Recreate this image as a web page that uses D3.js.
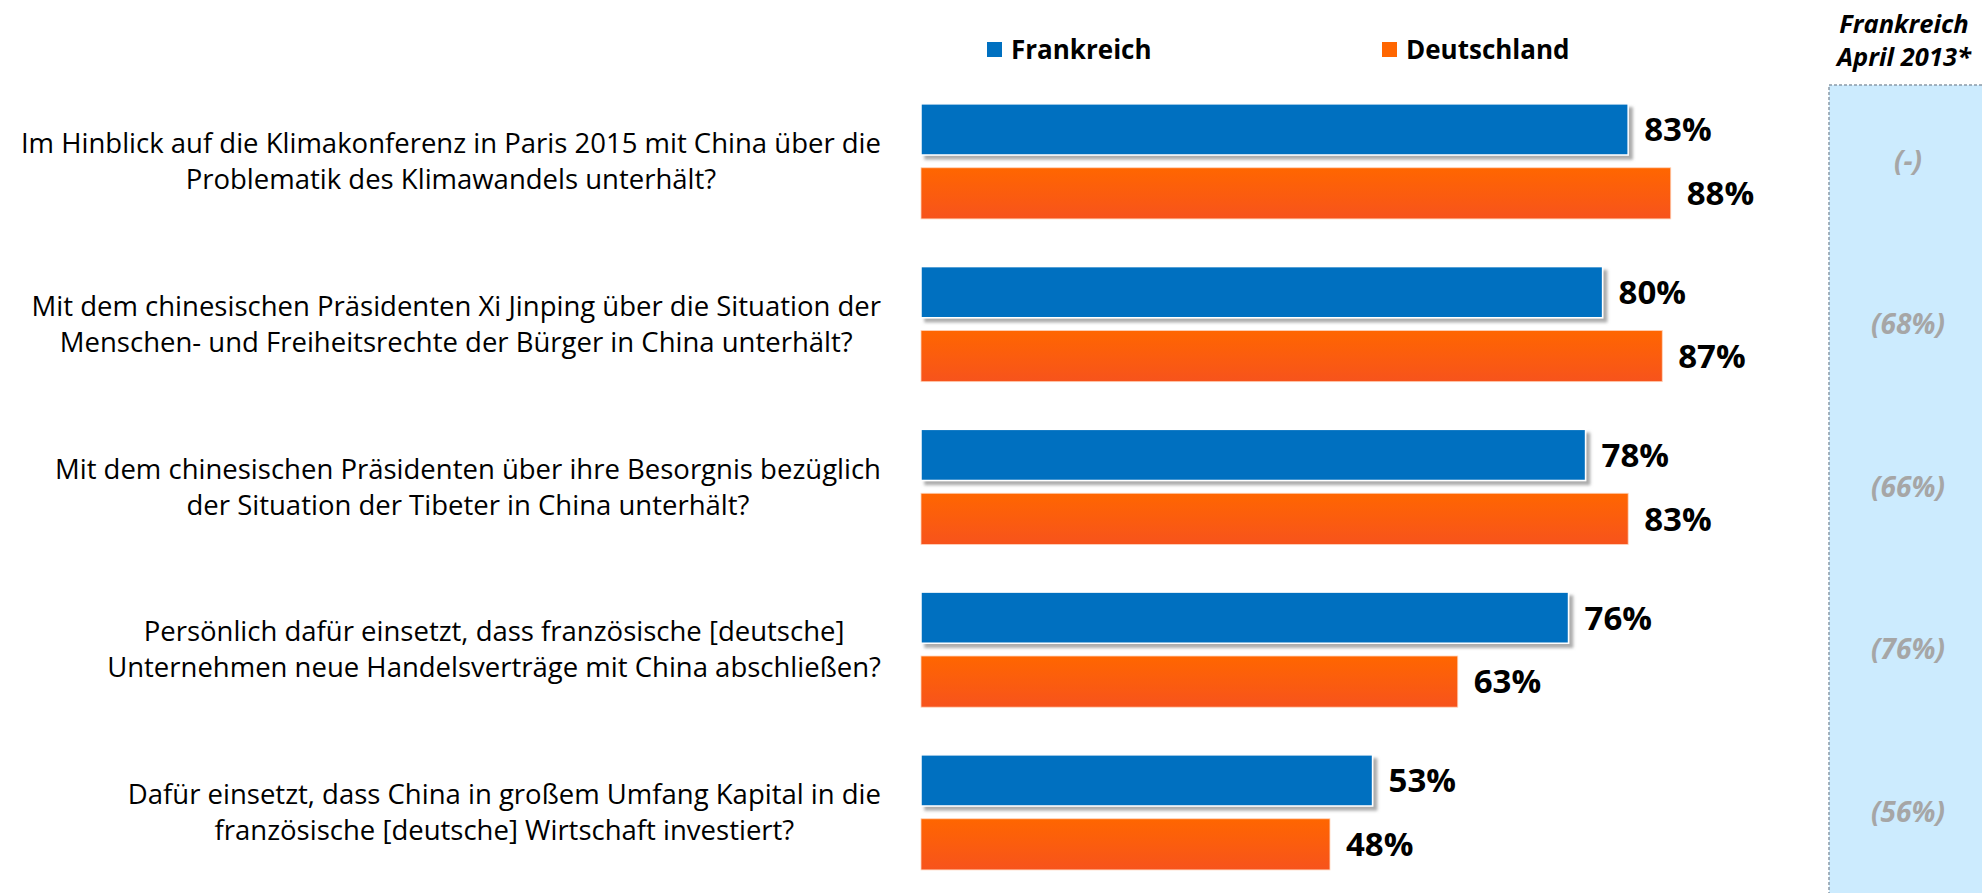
<!DOCTYPE html>
<html>
<head>
<meta charset="utf-8">
<script src="https://cdn.jsdelivr.net/npm/d3@7"></script>
<style>
  html, body { margin: 0; padding: 0; background: #ffffff; }
  svg { display: block; }
  text { font-family: "Open Sans", "Noto Sans", sans-serif; }
</style>
</head>
<body>
<svg id="chart" width="1982" height="893"></svg>
<script>
// ---- data ----
const categories = [
  ["Im Hinblick auf die Klimakonferenz in Paris 2015 mit China über die", "Problematik des Klimawandels unterhält?"],
  ["Mit dem chinesischen Präsidenten Xi Jinping über die Situation der", "Menschen- und Freiheitsrechte der Bürger in China unterhält?"],
  ["Mit dem chinesischen Präsidenten über ihre Besorgnis bezüglich", "der Situation der Tibeter in China unterhält?"],
  ["Persönlich dafür einsetzt, dass französische [deutsche]", "Unternehmen neue Handelsverträge mit China abschließen?"],
  ["Dafür einsetzt, dass China in großem Umfang Kapital in die", "französische [deutsche] Wirtschaft investiert?"]
];
const seriesNames = ["Frankreich", "Deutschland"];
const frankreich = [83, 80, 78, 76, 53];
const deutschland = [88, 87, 83, 63, 48];
const april2013Header = ["Frankreich", "April 2013*"];
const april2013 = ["(-)", "(68%)", "(66%)", "(76%)", "(56%)"];

// ---- setup ----
const svg = d3.select("#chart");
const W = 1982, H = 893;
const colors = { "Frankreich": "#0070C0", "Deutschland": "#FF6600" };

const defs = svg.append("defs");
const grad = defs.append("linearGradient").attr("id", "orangeGrad")
  .attr("x1", 0).attr("y1", 0).attr("x2", 0).attr("y2", 1);
grad.append("stop").attr("offset", "0%").attr("stop-color", "#FF6600");
grad.append("stop").attr("offset", "100%").attr("stop-color", "#F7531C");
const shadow = defs.append("filter").attr("id", "shadow")
  .attr("x", "-5%").attr("y", "-20%").attr("width", "115%").attr("height", "160%");
shadow.append("feDropShadow").attr("dx", 4).attr("dy", 4).attr("stdDeviation", 1.6)
  .attr("flood-color", "#808080").attr("flood-opacity", 0.65);

const idx = d3.range(categories.length);
const x = d3.scaleLinear().domain([0, 100]).range([921, 1773]);
const y = d3.scaleBand().domain(idx).range([80, 80 + 5 * 162.75])
  .paddingInner(0.293).paddingOuter(0.1465);
const ySub = d3.scaleBand().domain(seriesNames).range([0, y.bandwidth()]).paddingInner(0.2);

// ---- right panel (April 2013) ----
const panelX = 1829, panelY = 85;
svg.append("rect").attr("x", panelX).attr("y", panelY)
  .attr("width", W - panelX + 5).attr("height", H - panelY + 5)
  .attr("fill", "#CCEBFE");
svg.append("path")
  .attr("d", `M${panelX},${H + 2}V${panelY}H${W + 2}`)
  .attr("fill", "none").attr("stroke", "#8A9AA8").attr("stroke-width", 1.5)
  .attr("stroke-dasharray", "3,2");
const hdr = svg.append("text").attr("text-anchor", "middle")
  .attr("font-weight", "bold").attr("font-style", "italic").attr("font-size", 25.5)
  .attr("fill", "#000");
april2013Header.forEach((t, i) => {
  hdr.append("tspan").attr("x", 1904).attr("y", 33 + i * 33).text(t);
});
svg.append("g").selectAll("text").data(april2013).join("text")
  .attr("x", 1908)
  .attr("y", (d, i) => y(i) + y.bandwidth() / 2)
  .attr("dy", "0.35em")
  .attr("text-anchor", "middle")
  .attr("font-weight", "bold").attr("font-style", "italic").attr("font-size", 28)
  .attr("fill", "#A6A6A6")
  .text(d => d);

// ---- legend ----
const legend = svg.append("g");
const legendX = [987, 1382];
seriesNames.forEach((s, i) => {
  legend.append("rect").attr("x", legendX[i]).attr("y", 42).attr("width", 15).attr("height", 15)
    .attr("fill", colors[s]);
  legend.append("text").attr("x", legendX[i] + 24).attr("y", 50).attr("dy", "0.35em")
    .attr("font-weight", "bold").attr("font-size", 26).attr("fill", "#000").text(s);
});

// ---- bars ----
const rows = idx.map(i => ({ i, values: [
  { s: "Frankreich", v: frankreich[i] },
  { s: "Deutschland", v: deutschland[i] }
]}));
const g = svg.append("g").selectAll("g").data(rows).join("g")
  .attr("transform", d => `translate(0,${y(d.i)})`);

g.selectAll("rect.bar").data(d => d.values).join("rect")
  .attr("class", "bar")
  .attr("x", x(0))
  .attr("y", d => ySub(d.s))
  .attr("width", d => x(d.v) - x(0))
  .attr("height", ySub.bandwidth())
  .attr("fill", d => d.s === "Frankreich" ? colors.Frankreich : "url(#orangeGrad)")
  .attr("stroke", d => d.s === "Frankreich" ? "#FFFFFF" : "#FFD2B8")
  .attr("stroke-width", d => d.s === "Frankreich" ? 1.5 : 0.8)
  .attr("filter", d => d.s === "Frankreich" ? "url(#shadow)" : null);

g.selectAll("text.val").data(d => d.values).join("text")
  .attr("class", "val")
  .attr("x", d => x(d.v) + 16)
  .attr("y", d => ySub(d.s) + ySub.bandwidth() / 2)
  .attr("dy", "0.36em")
  .attr("font-weight", "bold").attr("font-size", 33).attr("fill", "#000")
  .text(d => d.v + "%");

// ---- category labels (centered block, right edge at 881) ----
const labelRight = 881;
rows.forEach(r => {
  const t = svg.append("text").attr("text-anchor", "middle")
    .attr("font-size", 27.5).attr("fill", "#000");
  const cy = y(r.i) + y.bandwidth() / 2;
  const spans = categories[r.i].map((line, k) =>
    t.append("tspan").attr("y", cy + (k === 0 ? -18 : 18)).attr("dy", "0.35em").text(line));
  const maxW = d3.max(spans, sp => sp.node().getComputedTextLength());
  spans.forEach(sp => sp.attr("x", labelRight - maxW / 2));
});
</script>
</body>
</html>
